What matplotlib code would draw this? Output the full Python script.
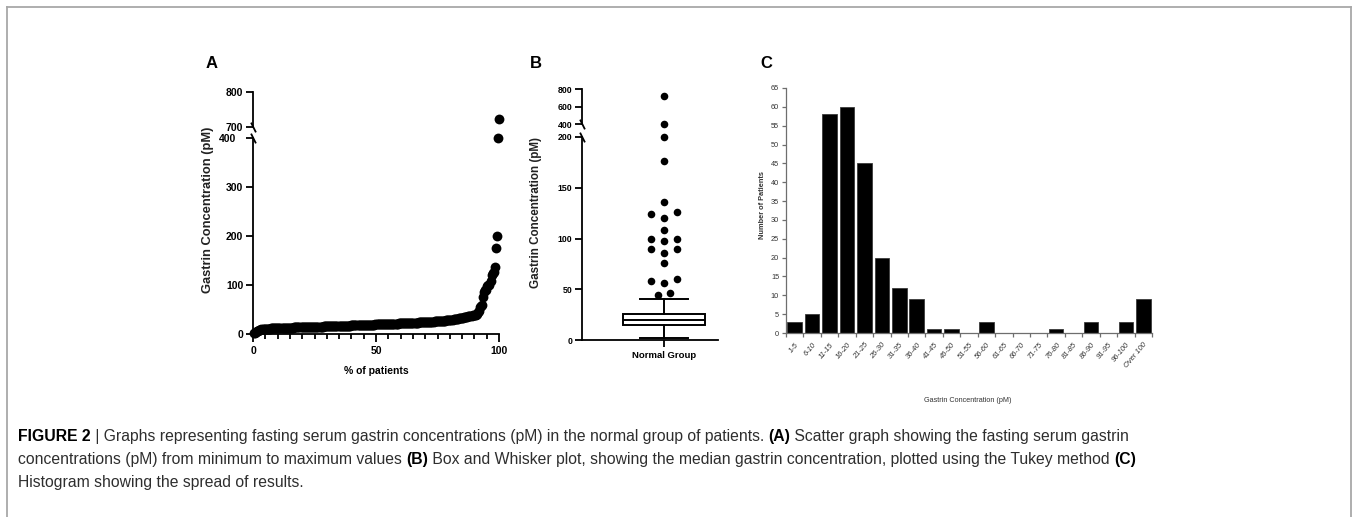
#!/usr/bin/env python3
"""Figure 2: fasting serum gastrin in the normal group (scatter, box plot, histogram)."""

import matplotlib
matplotlib.use("Agg")
import matplotlib.pyplot as plt
import numpy as np
from matplotlib.lines import Line2D
from matplotlib.ticker import MultipleLocator

plt.rcParams["font.family"] = ["Liberation Sans", "DejaVu Sans"]

# gastrin (pM) levels up to the upper whisker, with number of patients at each
low_levels = [2, 3, 5, 6, 7, 8, 9, 10,
              11, 12, 13, 14, 15, 16, 17, 18, 19, 20,
              21, 22, 23, 24, 25, 26, 27, 28, 29, 30,
              31, 32, 33, 34, 35, 36, 37, 38, 39, 40]
low_counts = [1, 1, 1, 1, 1, 1, 1, 1,
              8, 10, 12, 13, 15, 13, 13, 12, 11, 11,
              11, 10, 9, 8, 7, 6, 5, 4, 3, 2,
              3, 3, 2, 2, 2, 2, 2, 2, 2, 1]
# individual values above the whisker (Tukey outliers)
outliers = [44, 46, 56, 58, 60, 76, 86, 90, 90, 98, 100, 100,
            108, 120, 124, 126, 136, 176, 200, 400, 723]

# histogram (panel C)
hist_bins = ["1-5", "6-10", "11-15", "16-20", "21-25", "26-30", "31-35", "36-40",
             "41-45", "46-50", "51-55", "56-60", "61-65", "66-70", "71-75", "76-80",
             "81-85", "86-90", "91-95", "96-100", "Over 100"]
hist_counts = [3, 5, 58, 60, 45, 20, 12, 9, 1, 1, 0, 3, 0, 0, 0, 1, 0, 3, 0, 3, 9]

W, H = 1352, 517


def px_rect(x0, y_top, x1, y_bot):
    """pixel box -> figure fraction [left, bottom, width, height]"""
    return [x0 / W, 1 - y_bot / H, (x1 - x0) / W, (y_bot - y_top) / H]


def fig_text(fig, x, y, s, **kw):
    return fig.text(x / W, 1 - y / H, s, **kw)


def style_axis(ax, bottom=True, lw=1.3, size=7.5):
    for side in ("top", "right"):
        ax.spines[side].set_visible(False)
    ax.spines["left"].set_linewidth(lw)
    ax.spines["bottom"].set_linewidth(lw)
    if not bottom:
        ax.spines["bottom"].set_visible(False)
        ax.tick_params(axis="x", which="both", bottom=False, labelbottom=False)
    ax.tick_params(axis="both", which="major", direction="out", length=5, width=lw,
                   labelsize=size, pad=2)
    for lab in ax.get_yticklabels() + ax.get_xticklabels():
        lab.set_fontweight("bold")


def break_mark(ax, y):
    ax.plot([0], [y], transform=ax.transAxes, marker=[(-0.5, 1), (0.5, -1)],
            markersize=7, mew=1.3, color="black", linestyle="none", clip_on=False)


def spread_offsets(values, tol, step):
    """spread tied points sideways, like GraphPad does for outliers"""
    values = np.asarray(values, dtype=float)
    order = np.argsort(values)
    groups, cur = [], [order[0]]
    for a, b in zip(order[:-1], order[1:]):
        if values[b] - values[a] <= tol:
            cur.append(b)
        else:
            groups.append(cur)
            cur = [b]
    groups.append(cur)
    offsets = np.zeros(len(values))
    for g in groups:
        k = len(g)
        if k % 2:
            slots = [0.0]
            for i in range(1, k // 2 + 1):
                slots += [-i, i]
        else:
            slots = []
            for i in range(1, k // 2 + 1):
                slots += [-i + 0.5, i - 0.5]
        for idx, s in zip(g, slots):
            offsets[idx] = s * step
    return offsets


def rich_line(fig, x, y, parts, size, renderer):
    """draw regular/bold pieces one after another on the same baseline"""
    xf = x / W
    for text, weight in parts:
        color = "black" if weight == "bold" else "#2e2e2e"
        t = fig.text(xf, 1 - y / H, text, fontsize=size, fontweight=weight,
                     color=color, ha="left", va="baseline")
        xf += t.get_window_extent(renderer).width / fig.bbox.width


def main():
    fig = plt.figure(figsize=(W / 100, H / 100), dpi=100)
    renderer = fig.canvas.get_renderer()

    gastrin = np.sort(np.concatenate([np.repeat(low_levels, low_counts), outliers]))
    n = len(gastrin)
    pct = np.arange(1, n + 1) / n * 100

    # ---- A: scatter, broken y axis ----
    a_lo = fig.add_axes(px_rect(253, 138, 499, 334))
    a_hi = fig.add_axes(px_rect(253, 92, 499, 127), sharex=a_lo)
    lo = gastrin <= 400
    hi = gastrin >= 700
    a_lo.scatter(pct[lo], gastrin[lo], s=50, color="black", linewidths=0, clip_on=False, zorder=3)
    a_hi.scatter(pct[hi], gastrin[hi], s=50, color="black", linewidths=0, clip_on=False, zorder=3)
    a_lo.set_xlim(0, 100)
    a_lo.set_ylim(0, 400)
    a_hi.set_ylim(700, 800)
    a_lo.set_yticks([0, 100, 200, 300, 400])
    a_lo.set_yticklabels(["0", "100", "200", "300", ""])
    a_hi.set_yticks([700, 800])
    a_lo.set_xticks([0, 50, 100])
    a_lo.xaxis.set_minor_locator(MultipleLocator(5))
    style_axis(a_lo)
    style_axis(a_hi, bottom=False)
    a_lo.tick_params(axis="x", which="minor", direction="out", length=3.5, width=1.3)
    a_lo.tick_params(axis="x", which="major", length=5.5, pad=3)
    fig_text(fig, 236, 139, "400", fontsize=7.5, fontweight="bold", ha="right", va="center")
    break_mark(a_hi, 0)
    break_mark(a_lo, 1)
    fig_text(fig, 208, 210, "Gastrin Concentration (pM)", rotation=90, fontsize=9.3,
             fontweight="bold", color="#222222", ha="center", va="center")
    fig_text(fig, 376, 371, "% of patients", fontsize=7.5, fontweight="bold",
             ha="center", va="center")
    fig_text(fig, 212, 64, "A", fontsize=12, fontweight="bold", ha="center", va="center")

    # ---- B: Tukey box plot, broken y axis ----
    b_lo = fig.add_axes(px_rect(582, 137, 718, 340))
    b_hi = fig.add_axes(px_rect(582, 89, 718, 124), sharex=b_lo)
    b_lo.boxplot([gastrin], positions=[1], widths=0.61, whis=1.5, showfliers=False,
                 patch_artist=True, capwidths=0.35,
                 boxprops=dict(facecolor="white", edgecolor="black", linewidth=1.4),
                 medianprops=dict(color="black", linewidth=1.4),
                 whiskerprops=dict(color="black", linewidth=1.4),
                 capprops=dict(color="black", linewidth=1.4))
    offs = spread_offsets(outliers, 7, 0.092)
    out = np.asarray(outliers, dtype=float)
    olo = out <= 200
    ohi = out >= 400
    b_lo.scatter(1 + offs[olo], out[olo], s=30, color="black", linewidths=0, zorder=3, clip_on=False)
    b_hi.scatter(1 + offs[ohi], out[ohi], s=30, color="black", linewidths=0, zorder=3, clip_on=False)
    b_lo.set_xlim(0.397, 1.397)
    b_lo.set_ylim(0, 200)
    b_hi.set_ylim(400, 800)
    b_lo.set_yticks([0, 50, 100, 150, 200])
    b_hi.set_yticks([400, 600, 800])
    b_lo.set_xticks([1])
    b_lo.set_xticklabels(["Normal Group"])
    style_axis(b_lo, size=6.3)
    style_axis(b_hi, bottom=False, size=6.3)
    b_lo.tick_params(axis="x", labelsize=6.8, pad=3)
    break_mark(b_hi, 0)
    break_mark(b_lo, 1)
    fig_text(fig, 536, 213, "Gastrin Concentration (pM)", rotation=90, fontsize=8.4,
             fontweight="bold", color="#222222", ha="center", va="center")
    fig_text(fig, 536, 64, "B", fontsize=12, fontweight="bold", ha="center", va="center")

    # ---- C: histogram ----
    c = fig.add_axes(px_rect(786, 88, 1152, 333))
    xpos = np.arange(len(hist_counts))
    c.bar(xpos, hist_counts, width=0.84, color="black", edgecolor="#3a3a3a", linewidth=0.6)
    c.set_xlim(-0.5, len(hist_counts) - 0.5)
    c.set_ylim(0, 65)
    c.yaxis.set_major_locator(MultipleLocator(5))
    c.set_xticks(xpos)
    c.set_xticklabels(hist_bins, rotation=50, ha="right", va="top",
                      rotation_mode="anchor", fontsize=5.4, color="#333333", style="italic")
    c.set_xticks(np.arange(len(hist_counts) + 1) - 0.5, minor=True)
    for side in ("top", "right"):
        c.spines[side].set_visible(False)
    for side in ("left", "bottom"):
        c.spines[side].set_color("#6e6e6e")
        c.spines[side].set_linewidth(0.9)
    c.tick_params(axis="x", which="major", length=0, pad=6)
    c.tick_params(axis="x", which="minor", length=3, width=0.9, color="#6e6e6e")
    c.tick_params(axis="y", length=3, width=0.9, color="#6e6e6e", labelsize=5.3,
                  labelcolor="#333333", pad=2)
    fig_text(fig, 763, 205, "Number of Patients", rotation=90, fontsize=5.3,
             fontweight="bold", color="#333333", ha="center", va="center")
    fig_text(fig, 968, 400, "Gastrin Concentration (pM)", fontsize=5.2,
             color="#333333", ha="center", va="center")
    fig_text(fig, 766, 64, "C", fontsize=12, fontweight="bold", ha="center", va="center")

    # ---- frame and caption ----
    frame = dict(color="#a8a8a8", linewidth=1.3, transform=fig.transFigure)
    fig.add_artist(Line2D([6.5 / W, 6.5 / W], [0, 1 - 6.5 / H], **frame))
    fig.add_artist(Line2D([6.5 / W, 1350.5 / W], [1 - 6.5 / H, 1 - 6.5 / H], **frame))
    fig.add_artist(Line2D([1350.5 / W, 1350.5 / W], [0, 1 - 6.5 / H], **frame))

    lines = [
        [("FIGURE 2", "bold"),
         (" | Graphs representing fasting serum gastrin concentrations (pM) in the normal group of patients. ", "normal"),
         ("(A)", "bold"),
         (" Scatter graph showing the fasting serum gastrin", "normal")],
        [("concentrations (pM) from minimum to maximum values ", "normal"),
         ("(B)", "bold"),
         (" Box and Whisker plot, showing the median gastrin concentration, plotted using the Tukey method ", "normal"),
         ("(C)", "bold")],
        [("Histogram showing the spread of results.", "normal")],
    ]
    for i, parts in enumerate(lines):
        rich_line(fig, 18, 441 + i * 23, parts, 11.3, renderer)

    fig.savefig("out.png", dpi=100)
    plt.close(fig)


if __name__ == "__main__":
    main()
